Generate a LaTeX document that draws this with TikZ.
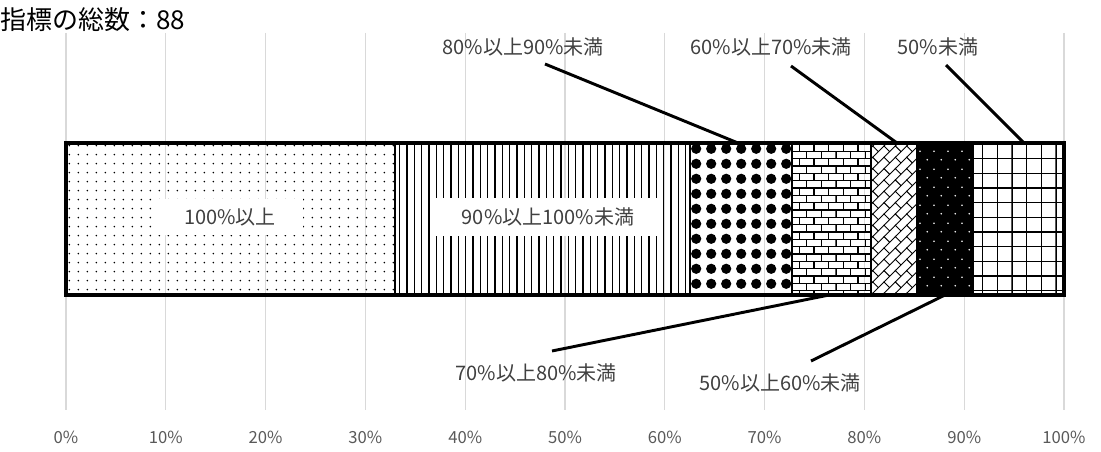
\documentclass[tikz,border=0pt]{standalone}
\usepackage{fontspec}
\setmainfont{Noto Sans CJK JP}
\usetikzlibrary{patterns, positioning}
\definecolor{labgray}{RGB}{64,64,64}
\definecolor{tickgray}{RGB}{89,89,89}
\definecolor{gridgray}{RGB}{217,217,217}

% fill patterns of the bar
\pgfdeclarepatternformonly{sparsedots}{\pgfqpoint{0pt}{0pt}}{\pgfqpoint{7pt}{7pt}}{\pgfqpoint{7pt}{7pt}}{%
  \pgfpathcircle{\pgfqpoint{3.5pt}{3.5pt}}{0.7pt}\pgfusepath{fill}}
\pgfdeclarepatternformonly{vlines}{\pgfqpoint{0pt}{-1pt}}{\pgfqpoint{5.5pt}{6pt}}{\pgfqpoint{5.5pt}{5pt}}{%
  \pgfsetlinewidth{1pt}\pgfpathmoveto{\pgfqpoint{2.75pt}{-1pt}}\pgfpathlineto{\pgfqpoint{2.75pt}{6pt}}\pgfusepath{stroke}}
\pgfdeclarepatternformonly{bigdots}{\pgfqpoint{0pt}{0pt}}{\pgfqpoint{11pt}{11pt}}{\pgfqpoint{11pt}{11pt}}{%
  \pgfpathcircle{\pgfqpoint{5.5pt}{5.5pt}}{3.9pt}\pgfusepath{fill}}
\pgfdeclarepatternformonly{brickwall}{\pgfqpoint{-0.5pt}{-0.5pt}}{\pgfqpoint{11.5pt}{11.5pt}}{\pgfqpoint{11pt}{11pt}}{%
  \pgfsetlinewidth{0.8pt}
  \pgfpathmoveto{\pgfqpoint{-0.5pt}{0pt}}\pgfpathlineto{\pgfqpoint{11.5pt}{0pt}}
  \pgfpathmoveto{\pgfqpoint{-0.5pt}{5.5pt}}\pgfpathlineto{\pgfqpoint{11.5pt}{5.5pt}}
  \pgfpathmoveto{\pgfqpoint{0pt}{0pt}}\pgfpathlineto{\pgfqpoint{0pt}{5.5pt}}
  \pgfpathmoveto{\pgfqpoint{5.5pt}{5.5pt}}\pgfpathlineto{\pgfqpoint{5.5pt}{11pt}}
  \pgfusepath{stroke}}
\pgfdeclarepatternformonly{diagbricks}{\pgfqpoint{-0.5pt}{-0.5pt}}{\pgfqpoint{9pt}{9pt}}{\pgfqpoint{8.5pt}{8.5pt}}{%
  \pgfsetlinewidth{0.7pt}
  \pgfpathmoveto{\pgfqpoint{-0.5pt}{-0.5pt}}\pgfpathlineto{\pgfqpoint{9pt}{9pt}}
  \pgfpathmoveto{\pgfqpoint{0pt}{8.5pt}}\pgfpathlineto{\pgfqpoint{4.25pt}{4.25pt}}
  \pgfusepath{stroke}}
\pgfdeclarepatternformonly{whitedots}{\pgfqpoint{0pt}{0pt}}{\pgfqpoint{10.5pt}{13.5pt}}{\pgfqpoint{10.5pt}{13.5pt}}{%
  \pgfpathcircle{\pgfqpoint{2.6pt}{3.4pt}}{0.7pt}
  \pgfpathcircle{\pgfqpoint{7.9pt}{10.1pt}}{0.7pt}\pgfusepath{fill}}
\pgfdeclarepatternformonly{gridpat}{\pgfqpoint{-0.5pt}{-0.5pt}}{\pgfqpoint{11.5pt}{11.5pt}}{\pgfqpoint{11pt}{11pt}}{%
  \pgfsetlinewidth{1pt}
  \pgfpathmoveto{\pgfqpoint{0pt}{-0.5pt}}\pgfpathlineto{\pgfqpoint{0pt}{11.5pt}}
  \pgfpathmoveto{\pgfqpoint{-0.5pt}{0pt}}\pgfpathlineto{\pgfqpoint{11.5pt}{0pt}}
  \pgfusepath{stroke}}

\begin{document}
\begin{tikzpicture}[x=0.75pt, y=-0.75pt,
    seg/.style={draw=black, line width=1.6pt},
    leader/.style={draw=black, line width=2.2pt},
    lab/.style={text=labgray, font=\fontsize{15}{17}\selectfont, inner sep=1pt},
    inlab/.style={lab, fill=white, inner xsep=20pt, inner ysep=7pt},
    tick/.style={text=tickgray, font=\fontsize{12.5}{14}\selectfont}]
    \useasboundingbox (0,0) rectangle (1101,452);

    % Title
    \node[anchor=west, font=\fontsize{19.5}{21}\selectfont, inner sep=0pt] (title) at (0,20) {指標の総数：88};

    % Grid and axis
    \foreach \p in {0,10,...,100} {
        \draw[gridgray, line width=0.8pt] (66+9.98*\p,33) -- (66+9.98*\p,410);
        \node[tick] (t\p) at (66+9.98*\p,437) {\p\%};
    }

    % Bar segments
    \draw[seg, pattern=sparsedots] (66,143) rectangle (394.8,295);
    \draw[seg, pattern=vlines] (394.8,143) rectangle (689.8,295);
    \draw[seg, pattern=bigdots] (689.8,143) rectangle (791.8,295);
    \draw[seg, pattern=brickwall] (791.8,143) rectangle (871.2,295);
    \draw[seg, pattern=diagbricks] (871.2,143) rectangle (916.6,295);
    \fill[black] (916.6,143) rectangle (973.3,295);
    \draw[seg, pattern=whitedots, pattern color=white] (916.6,143) rectangle (973.3,295);
    \draw[seg, pattern=gridpat] (973.3,143) rectangle (1064,295);
    \draw[line width=2.4pt] (66,143) rectangle (1064,295);

    % Labels inside the bar
    \node[inlab] (in100) at (230,217) {100\%以上};
    \node[inlab] (in90) at (548,217) {90\%以上100\%未満};

    % Labels outside the bar
    \node[lab] (l80) at (523,47) {80\%以上90\%未満};
    \node[lab] (l60) at (771,47) {60\%以上70\%未満};
    \node[lab] (l50) at (938,47) {50\%未満};
    \node[lab] (l70) at (536,373) {70\%以上80\%未満};
    \node[lab] (l5060) at (780,383) {50\%以上60\%未満};

    % Leader lines
    \coordinate (s80) at (545,64);   \coordinate (e80) at (738,143);
    \coordinate (s60) at (791,66);   \coordinate (e60) at (897,143);
    \coordinate (s50) at (946,65);   \coordinate (e50) at (1024,143);
    \coordinate (s70) at (552,351);  \coordinate (e70) at (829,295);
    \coordinate (s5060) at (811,361); \coordinate (e5060) at (945,295);
    \draw[leader] (s80) -- (e80);
    \draw[leader] (s60) -- (e60);
    \draw[leader] (s50) -- (e50);
    \draw[leader] (s70) -- (e70);
    \draw[leader] (s5060) -- (e5060);
\end{tikzpicture}
\end{document}
